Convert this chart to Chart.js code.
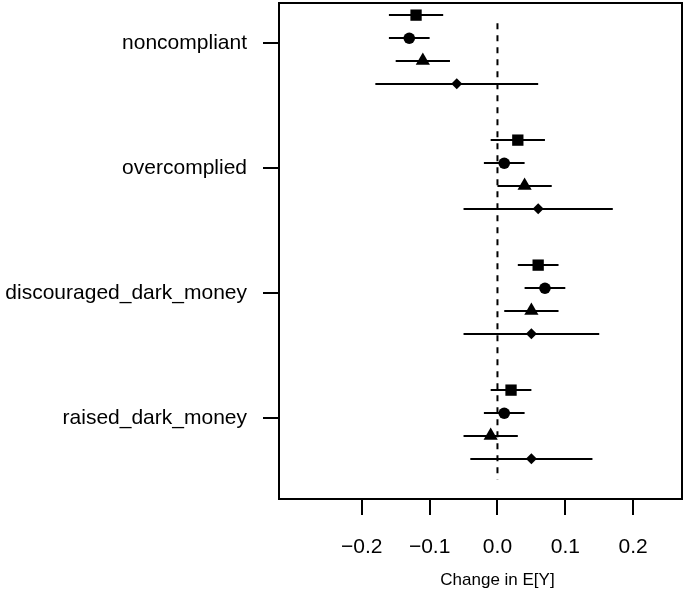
<!DOCTYPE html>
<html>
<head>
<meta charset="utf-8">
<script src="https://cdn.jsdelivr.net/npm/chart.js@4.4.1/dist/chart.umd.min.js"></script>
<style>
body { margin: 0; background: #fff; }
</style>
</head>
<body>
<canvas id="myChart" width="685" height="592"></canvas>
<script>
var categories = ["noncompliant", "overcomplied", "discouraged_dark_money", "raised_dark_money"];

// estimate and interval ends, one set per marker
var est_square   = [-0.12, 0.03, 0.06, 0.02];
var lo_square    = [-0.16, -0.01, 0.03, -0.01];
var hi_square    = [-0.08, 0.07, 0.09, 0.05];

var est_circle   = [-0.13, 0.01, 0.07, 0.01];
var lo_circle    = [-0.16, -0.02, 0.04, -0.02];
var hi_circle    = [-0.10, 0.04, 0.10, 0.04];

var est_triangle = [-0.11, 0.04, 0.05, -0.01];
var lo_triangle  = [-0.15, 0.00, 0.01, -0.05];
var hi_triangle  = [-0.07, 0.08, 0.09, 0.03];

var est_diamond  = [-0.06, 0.06, 0.05, 0.05];
var lo_diamond   = [-0.18, -0.05, -0.05, -0.04];
var hi_diamond   = [0.06, 0.17, 0.15, 0.14];

var x_ticks = [-0.2, -0.1, 0.0, 0.1, 0.2];

var FONT = "'Liberation Sans', Arial, Helvetica, sans-serif";

// row layout inside each category
var dodge = [-0.225, -0.04, 0.14, 0.324];
var groups = [
    {est: est_square,   lo: lo_square,   hi: hi_square,   style: "rect",     r: 8},
    {est: est_circle,   lo: lo_circle,   hi: hi_circle,   style: "circle",   r: 5.8},
    {est: est_triangle, lo: lo_triangle, hi: hi_triangle, style: "triangle", r: 8.2},
    {est: est_diamond,  lo: lo_diamond,  hi: hi_diamond,  style: "rectRot",  r: 5.5}
];

var dts = [];
for (var j = 0; j < groups.length; j++) {
    var pts = [];
    for (var i = 0; i < categories.length; i++) {
        pts.push({x: groups[j].est[i], y: i + dodge[j]});
    }
    dts.push({
        type: "scatter",
        data: pts,
        pointStyle: groups[j].style,
        pointRadius: groups[j].r,
        backgroundColor: "#000",
        borderWidth: 0,
        order: 1
    });
}
// dashed zero line
dts.push({
    type: "line",
    data: [{x: 0, y: -0.16}, {x: 0, y: 3.49}],
    borderColor: "#000",
    borderWidth: 2,
    borderDash: [6, 6],
    pointRadius: 0,
    fill: false,
    order: 10
});

var errorBars = {
    id: "errorBars",
    beforeDatasetsDraw: function(chart) {
        var ctx = chart.ctx;
        var xs = chart.scales.x, ys = chart.scales.y;
        ctx.save();
        ctx.strokeStyle = "#000";
        ctx.lineWidth = 2;
        for (var j = 0; j < groups.length; j++) {
            for (var i = 0; i < categories.length; i++) {
                var py = Math.round(ys.getPixelForValue(i + dodge[j]));
                ctx.beginPath();
                ctx.moveTo(xs.getPixelForValue(groups[j].lo[i]), py);
                ctx.lineTo(xs.getPixelForValue(groups[j].hi[i]), py);
                ctx.stroke();
            }
        }
        ctx.restore();
    }
};

var boxAndTitle = {
    id: "boxAndTitle",
    afterDraw: function(chart) {
        var ctx = chart.ctx, a = chart.chartArea;
        ctx.save();
        ctx.strokeStyle = "#000";
        ctx.lineWidth = 2;
        ctx.strokeRect(a.left, a.top, a.right - a.left, a.bottom - a.top);
        ctx.fillStyle = "#000";
        ctx.font = "17px " + FONT;
        ctx.textAlign = "center";
        ctx.textBaseline = "middle";
        ctx.fillText("Change in E[Y]", chart.scales.x.getPixelForValue(0), 580);
        ctx.restore();
    }
};

function noPad(scale) {
    scale.paddingTop = 0;
    scale.paddingBottom = 0;
    scale.paddingLeft = 0;
    scale.paddingRight = 0;
}

var canvas = document.getElementById("myChart").getContext("2d");
var chart = new Chart(canvas, {
    type: "scatter",
    data: {datasets: dts},
    plugins: [errorBars, boxAndTitle],
    options: {
        responsive: false,
        animation: false,
        layout: {autoPadding: false, padding: {top: 3, right: 3, left: 0, bottom: 0}},
        plugins: {legend: {display: false}, tooltip: {enabled: false}},
        scales: {
            x: {
                type: "linear",
                position: "bottom",
                min: -0.322,
                max: 0.272,
                afterBuildTicks: function(scale) {
                    scale.ticks = x_ticks.map(function(v) { return {value: v}; });
                },
                afterFit: function(scale) { scale.height = 93; noPad(scale); },
                ticks: {
                    autoSkip: false,
                    maxRotation: 0,
                    padding: 20,
                    color: "#000",
                    font: {family: FONT, size: 21},
                    callback: function(v) {
                        return (v < -1e-9 ? "\u2212" : "") + Math.abs(v).toFixed(1);
                    }
                },
                grid: {drawOnChartArea: false, drawTicks: true, tickLength: 16, color: "#000", lineWidth: 2},
                border: {display: false}
            },
            y: {
                type: "linear",
                reverse: true,
                min: -0.322,
                max: 3.646,
                afterBuildTicks: function(scale) {
                    scale.ticks = categories.map(function(c, i) { return {value: i}; });
                },
                afterFit: function(scale) { scale.width = 279; noPad(scale); },
                ticks: {
                    autoSkip: false,
                    padding: 16,
                    color: "#000",
                    font: {family: FONT, size: 21},
                    callback: function(v) { return categories[v]; }
                },
                grid: {drawOnChartArea: false, drawTicks: true, tickLength: 16, color: "#000", lineWidth: 2},
                border: {display: false}
            }
        }
    }
});
</script>
</body>
</html>
